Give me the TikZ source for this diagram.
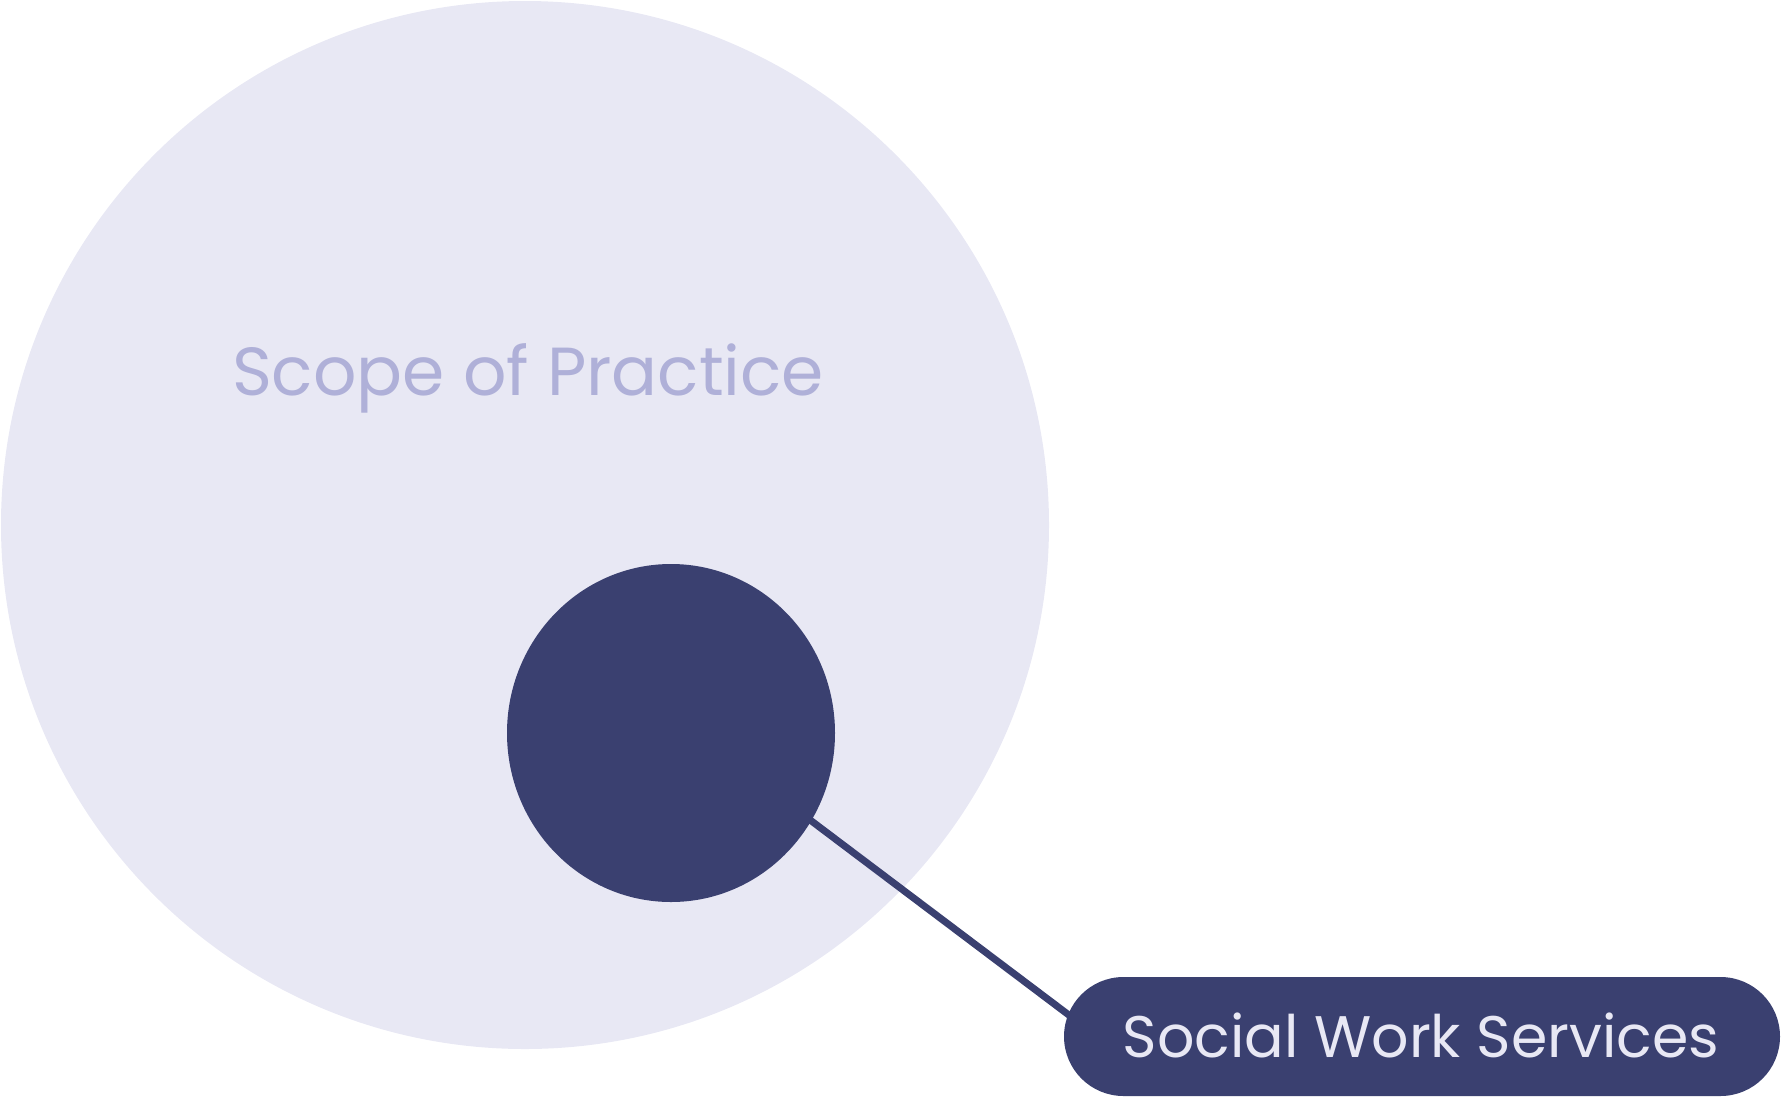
\documentclass[tikz,border=0pt]{standalone}
\usepackage{fontspec}
\setmainfont{Poppins}
\usetikzlibrary{shapes.geometric}
\definecolor{pale}{HTML}{E8E8F4}
\definecolor{navy}{HTML}{3A4070}
\definecolor{lav}{HTML}{AFB0D8}
\begin{document}
\begin{tikzpicture}[x=1pt,y=-1pt,
  lbl/.style={inner sep=0pt,anchor=base},
]
\useasboundingbox (0,0) rectangle (1781,1096);
\fill[pale] (525,525) circle (524);
\coordinate (la) at (700,737);
\coordinate (lb) at (1110,1046);
\draw[navy,line width=7] (la) -- (lb);
\node[ellipse,fill=navy,minimum width=328,minimum height=338,inner sep=0] (small) at (671,733) {};
\node[fill=navy,rounded corners=59.5,minimum width=716,minimum height=119,inner sep=0] (pill) at (1422,1036.5) {};
\node[lbl,text=lav,font=\fontsize{68}{76}\selectfont] (scope) at (528,395) {Scope of Practice};
\node[lbl,text=pale,font=\fontsize{58.6}{66}\selectfont] (sws) at (1421,1057) {Social Work Services};
\end{tikzpicture}
\end{document}
